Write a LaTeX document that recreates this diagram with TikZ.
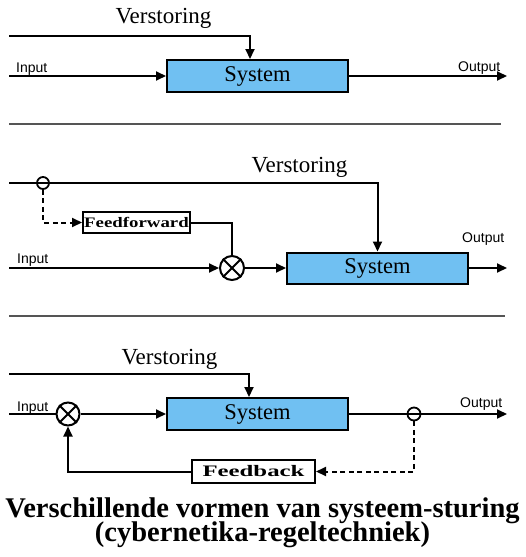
\documentclass[tikz,border=0pt]{standalone}
\usepackage{fontspec}
\usepackage{graphicx}
\setmainfont{Liberation Serif}
\newfontfamily\labfont{Liberation Sans}
\usetikzlibrary{arrows.meta}
\definecolor{sysblue}{RGB}{112,192,242}
\definecolor{sepgray}{RGB}{85,85,85}
\newcommand{\tightlines}{\lineskiplimit=-30pt\relax\lineskip=0pt\relax}
\begin{document}
\begin{tikzpicture}[x=1pt,y=-1pt,
  ln/.style={line width=2pt},
  arr/.style={ln,-{Triangle[length=10pt,width=9pt]}},
  dsh/.style={arr,dash pattern=on 5pt off 3.5pt},
  sysbox/.style={draw,line width=2pt,fill=sysblue,minimum width=181pt,minimum height=32pt,inner sep=0pt,font=\fontsize{22.5}{24}\selectfont},
  smallbox/.style={draw,line width=2pt,fill=white,inner sep=0pt},
  verst/.style={font=\fontsize{23}{24}\selectfont,anchor=base,inner sep=0pt},
  lab/.style={font=\labfont\fontsize{14}{16}\selectfont,anchor=base west,inner sep=0pt},
  sumnode/.style={draw,circle,line width=2pt,minimum size=#1,inner sep=0pt},
  picknode/.style={draw,circle,line width=1.8pt,minimum size=12pt,inner sep=0pt},
  sep/.style={draw=sepgray,line width=1.5pt},
  ttl/.style={font=\bfseries\fontsize{28.5}{24}\selectfont\tightlines,align=center,inner sep=0pt}
]
\useasboundingbox (0,0) rectangle (526,557);

% ---------- Panel 1 ----------
\node[verst] (v1) at (163.5,23) {Verstoring};
\node[sysbox] (sys1) at (257.5,76) {System};
\coordinate (d1) at (9,36);
\coordinate (in1) at (9,76);
\coordinate (out1) at (507,76);
\node[lab] (il1) at (16,72) {Input};
\node[lab] (ol1) at (458,71) {Output};
\draw[arr] (d1) -| ([xshift=-7.5pt]sys1.north);
\draw[arr] (in1) -- (sys1.west);
\draw[arr] (sys1.east) -- (out1);

% separator
\coordinate (s1a) at (9,124);
\coordinate (s1b) at (501,124);
\draw[sep] (s1a) -- (s1b);

% ---------- Panel 2 ----------
\node[verst] (v2) at (299.5,172) {Verstoring};
\node[sysbox,minimum height=31pt] (sys2) at (377.5,268) {System};
\node[smallbox,minimum width=107pt,minimum height=21pt] (ff) at (136.5,222.5)
  {\scalebox{1.3}[1]{\bfseries\fontsize{14.5}{14.5}\selectfont Feedforward}};
\node[sumnode=24pt] (sum2) at (232,268) {};
\draw[ln] (sum2.north east) -- (sum2.south west);
\draw[ln] (sum2.north west) -- (sum2.south east);
\node[picknode] (pick2) at (43,183) {};
\coordinate (d2) at (9,183);
\coordinate (in2) at (9,268);
\coordinate (out2) at (507,268);
\node[lab] (il2) at (17,263) {Input};
\node[lab] (ol2) at (462,242) {Output};
\draw[arr] (d2) -| (sys2.north);
\draw[dsh] (pick2.south) |- (ff.west);
\draw[ln] (ff.east) -| (sum2.north);
\draw[arr] (in2) -- (sum2.west);
\draw[arr] (sum2.east) -- (sys2.west);
\draw[arr] (sys2.east) -- (out2);

% separator
\coordinate (s2a) at (9,316);
\coordinate (s2b) at (505,316);
\draw[sep] (s2a) -- (s2b);

% ---------- Panel 3 ----------
\node[verst] (v3) at (169.5,364) {Verstoring};
\node[sysbox] (sys3) at (257.5,414) {System};
\node[smallbox,minimum width=123pt,minimum height=23pt] (fb) at (253.5,471.5)
  {\scalebox{1.55}[1]{\bfseries\fontsize{16}{16}\selectfont Feedback}};
\node[sumnode=23pt] (sum3) at (68,414) {};
\draw[ln] (sum3.north east) -- (sum3.south west);
\draw[ln] (sum3.north west) -- (sum3.south east);
\node[picknode,minimum size=13pt] (pick3) at (414,414) {};
\coordinate (d3) at (9,374);
\coordinate (in3) at (9,414);
\coordinate (out3) at (507,414);
\node[lab] (il3) at (17,411) {Input};
\node[lab] (ol3) at (460,407) {Output};
\draw[arr] (d3) -| ([xshift=-8.5pt]sys3.north);
\draw[ln] (in3) -- (sum3.west);
\draw[arr] (sum3.east) -- (sys3.west);
\draw[arr] (sys3.east) -- (out3);
\draw[dsh] (pick3.south) |- (fb.east);
\draw[arr] (fb.west) -| (sum3.south);

% ---------- Title ----------
\node[ttl,anchor=base] (title) at (262.5,541) {Verschillende vormen van systeem-sturing\\(cybernetika-regeltechniek)};
\end{tikzpicture}
\end{document}
